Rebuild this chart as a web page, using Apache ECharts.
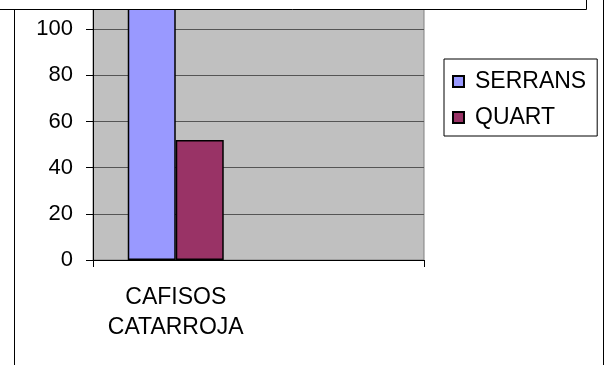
<!DOCTYPE html>
<html>
<head>
<meta charset="utf-8">
<script src="https://cdn.jsdelivr.net/npm/echarts@6/dist/echarts.min.js"></script>
<style>
  html, body { margin: 0; padding: 0; background: #fff; }
  #chart { width: 608px; height: 365px; }
</style>
</head>
<body>
<div id="chart"></div>
<script>
// categories and values
var categories = ['CAFISOS\nCATARROJA', ''];
var serrans = [110, null];
var quart = [52, null];
var yTicks = { min: 0, max: 120, interval: 20 };

var chartDom = document.getElementById('chart');
var myChart = echarts.init(chartDom);

var option = {
    animation: false,
    backgroundColor: '#fff',
    textStyle: { fontFamily: 'Liberation Sans, Arial, sans-serif' },
    grid: {
        left: 93, right: 184, top: -17, bottom: 105,
        containLabel: false,
        outerBoundsMode: 'none',
        show: true,
        backgroundColor: '#c0c0c0',
        borderColor: '#808080',
        borderWidth: 1
    },
    legend: {
        orient: 'vertical',
        left: 444, top: 59,
        padding: [11, 11, 7, 8],
        itemGap: 13,
        itemWidth: 11, itemHeight: 11,
        icon: 'rect',
        borderColor: '#000', borderWidth: 1,
        textStyle: { fontSize: 23, color: '#000', padding: [0, 0, 0, 6] },
        data: ['SERRANS', 'QUART']
    },
    xAxis: {
        type: 'category',
        data: categories,
        axisLine: { lineStyle: { color: '#000', width: 1 } },
        axisTick: { show: true, length: 7, lineStyle: { color: '#000' } },
        axisLabel: { fontSize: 23, color: '#000', margin: 23, lineHeight: 30 }
    },
    yAxis: {
        type: 'value',
        min: yTicks.min, max: yTicks.max, interval: yTicks.interval,
        axisLine: { show: true, lineStyle: { color: '#000', width: 1 } },
        axisTick: { show: true, length: 7, lineStyle: { color: '#000' } },
        axisLabel: { fontSize: 22, color: '#000', margin: 20 },
        splitLine: { show: true, lineStyle: { color: '#555', width: 1 } }
    },
    series: [
        {
            name: 'SERRANS', type: 'bar', data: serrans,
            barGap: '0%', barCategoryGap: '42%',
            itemStyle: { color: '#9999ff', borderColor: '#000', borderWidth: 1.5 }
        },
        {
            name: 'QUART', type: 'bar', data: quart,
            itemStyle: { color: '#993366', borderColor: '#000', borderWidth: 1.5 }
        }
    ],
    graphic: [
        // outer chart frame
        {
            type: 'rect', silent: true, z: 100,
            shape: { x: 14.5, y: -20, width: 589, height: 420 },
            style: { fill: 'none', stroke: '#000', lineWidth: 1 }
        },
        // title box clipped at top
        {
            type: 'rect', silent: true, z: 101,
            shape: { x: -2, y: -20, width: 588.5, height: 29.5 },
            style: { fill: '#fff', stroke: '#000', lineWidth: 1 }
        }
    ]
};

option && myChart.setOption(option);
</script>
</body>
</html>
